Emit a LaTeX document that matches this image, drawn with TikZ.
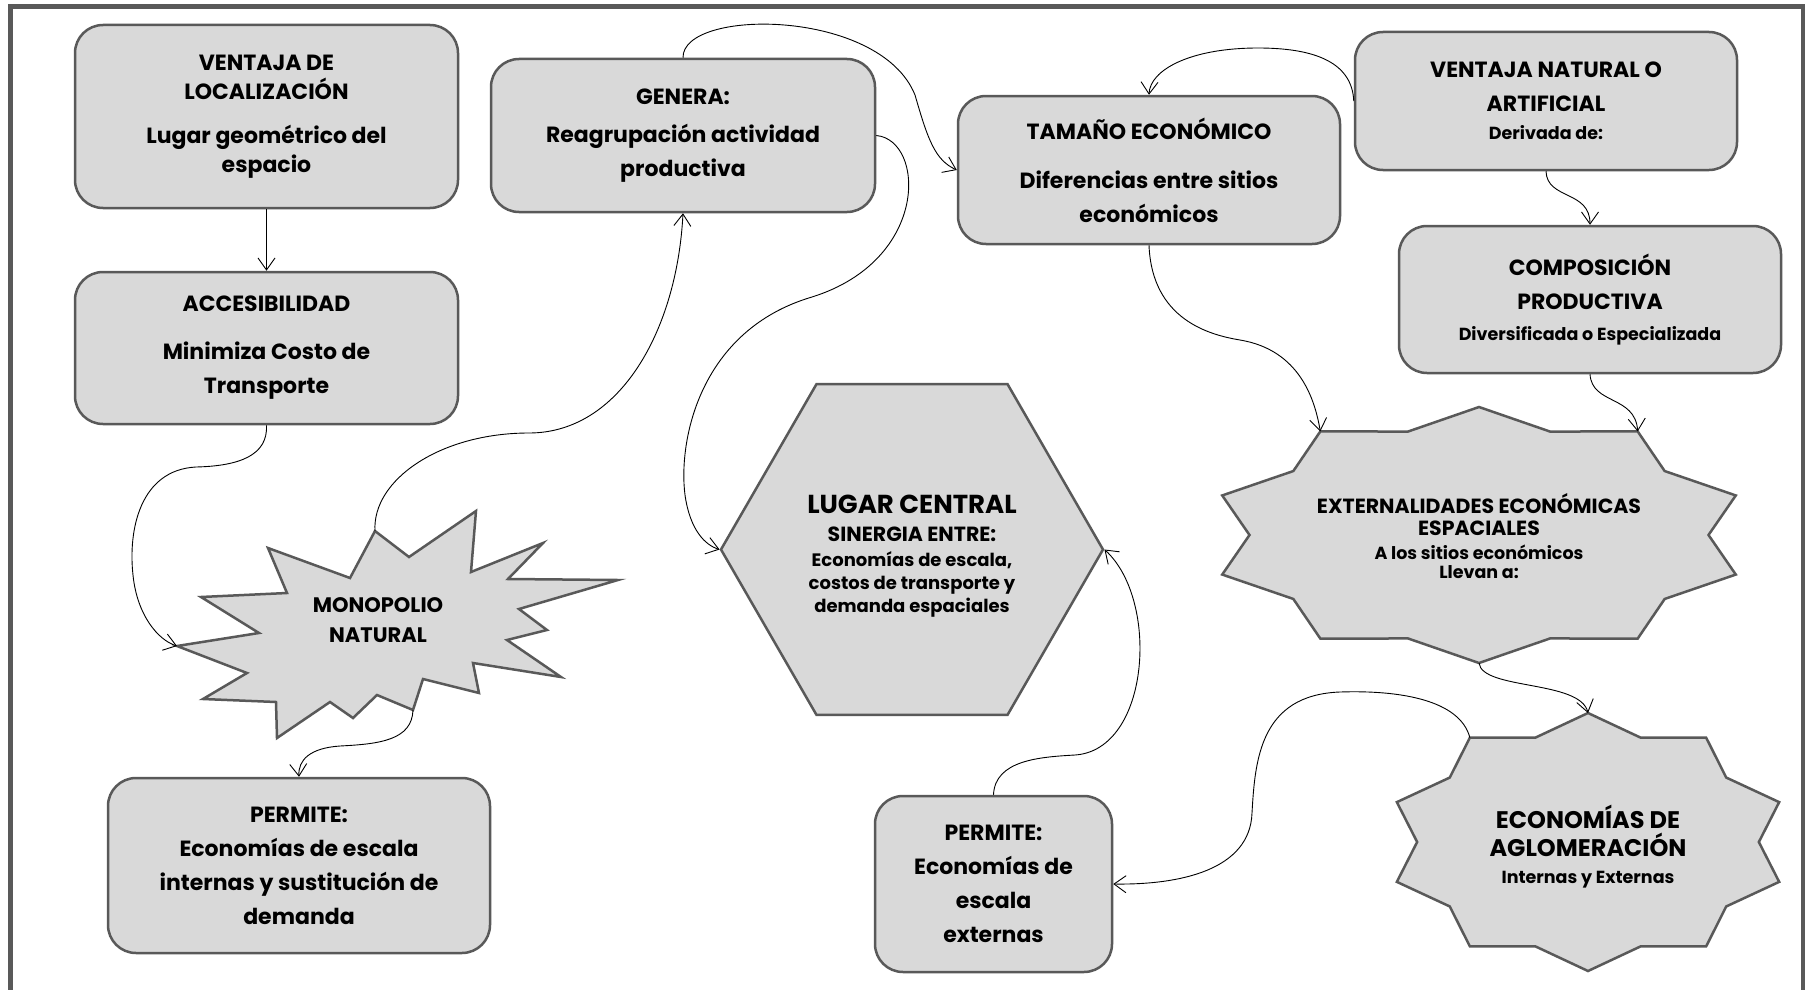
\documentclass[tikz,border=0pt]{standalone}
\usepackage{fontspec}
\setmainfont{Poppins}
\usetikzlibrary{arrows.meta,shapes.geometric}
\definecolor{boxfill}{HTML}{D9D9D9}
\definecolor{boxline}{HTML}{595959}
\newcommand{\txtmain}{\fontsize{22}{34}\selectfont\bfseries}
\newcommand{\txtsmall}{\fontsize{17.5}{24}\selectfont\bfseries}
\newcommand{\txtbig}{\fontsize{26}{30}\selectfont\bfseries}
\newcommand{\txtmid}{\fontsize{20.5}{25}\selectfont\bfseries}
\newcommand{\txtagl}{\fontsize{24}{28}\selectfont\bfseries}
\newcommand{\txtmono}{\fontsize{21}{30}\selectfont\bfseries}
\newcommand{\txthex}{\fontsize{18}{23}\selectfont\bfseries}
\begin{document}
\begin{tikzpicture}[x=1pt,y=-1pt,>={Straight Barb[length=12pt,width=17pt]},
    shapeline/.style={draw=boxline,fill=boxfill,line width=2.5pt},
    box/.style={shapeline,rounded corners=28pt,align=center,inner sep=0pt,font=\txtmain},
    link/.style={->,black,line width=0.9pt}]
    \useasboundingbox (0,0) rectangle (1805,990);
    \draw[line width=5pt,draw=boxline] (10.5,7) rectangle (1803,992);
    % boxes
    \node[box,minimum width=383pt,minimum height=183pt](loc) at (266.5,116.5){VENTAJA DE\\[-5pt]LOCALIZACI\'ON\\[10pt]Lugar geom\'etrico del\\[-5pt]espacio};
    \node[box,minimum width=383pt,minimum height=152pt](acc) at (266.5,348){ACCESIBILIDAD\\[14pt]Minimiza Costo de\\Transporte};
    \node[box,minimum width=384pt,minimum height=153pt](gen) at (683,135.5){GENERA:\\[4pt]Reagrupaci\'on actividad\\productiva};
    \node[box,minimum width=382pt,minimum height=148pt](tam) at (1149,170){TAMA\~NO ECON\'OMICO\\[15pt]Diferencias entre sitios\\econ\'omicos};
    \node[box,minimum width=382pt,minimum height=138pt](nat) at (1546,101){VENTAJA NATURAL O\\ARTIFICIAL\\[-6pt]{\txtsmall Derivada de:}};
    \node[box,minimum width=382pt,minimum height=147pt](comp) at (1590,299.5){COMPOSICI\'ON\\PRODUCTIVA\\[-3pt]{\txtsmall Diversificada o Especializada}};
    \node[box,minimum width=382pt,minimum height=175pt](perm1) at (299,865.5){PERMITE:\\Econom\'ias de escala\\internas y sustituci\'on de\\demanda};
    \node[box,minimum width=237pt,minimum height=176pt](perm2) at (993.5,884){PERMITE:\\Econom\'ias de\\escala\\externas};
    % hexagon
    \node[shapeline,regular polygon,regular polygon sides=6,minimum size=382pt,inner sep=0pt](lugar) at (912,549.5){};
    \node[align=center,font=\txthex](lugar-txt) at (912,556)
        {{\txtbig LUGAR CENTRAL}\\[5pt]{\txtmid SINERGIA ENTRE:}\\[2pt]Econom\'ias de escala,\\costos de transporte y\\demanda espaciales};
    % stars
    \foreach \i in {0,...,19}{
        \pgfmathsetmacro{\rf}{ifthenelse(mod(\i,2)==0,1,0.85)}
        \coordinate (ext-\i) at ({1479+270*\rf*sin(18*\i)},{535-128*\rf*cos(18*\i)});
        \coordinate (agl-\i) at ({1588+201*\rf*sin(18*\i)},{842-129*\rf*cos(18*\i)});
    }
    \draw[shapeline] (ext-0) \foreach \i in {1,...,19}{ -- (ext-\i)} -- cycle;
    \draw[shapeline] (agl-0) \foreach \i in {1,...,19}{ -- (agl-\i)} -- cycle;
    \node[align=center,font=\txtmid](ext) at (1479,536){EXTERNALIDADES ECON\'OMICAS\\[-3pt]ESPACIALES\\[-1pt]{\txtsmall A los sitios econ\'omicos}\\[-6pt]{\txtsmall Llevan a:}};
    \node[align=center,font=\txtagl](agl) at (1588,847){ECONOM\'IAS DE\\AGLOMERACI\'ON\\[-1pt]{\txtsmall Internas y Externas}};
    % monopolio
    \coordinate (mono-t) at (375,531);
    \coordinate (mono-l) at (177,646);
    \coordinate (mono-b) at (413,710);
    \draw[shapeline] (mono-t) -- (409,557) -- (476,511) -- (471,572) -- (543,543) -- (508,579) -- (618,580)
        -- (519,609) -- (547,630) -- (507,640) -- (561,677) -- (473,663) -- (479,693) -- (423,679)
        -- (mono-b) -- (377,695) -- (353,718) -- (330,702) -- (277,738) -- (276,702) -- (203,699)
        -- (247,673) -- (mono-l) -- (259,633) -- (201,597) -- (287,593) -- (268,548) -- (350,578) -- cycle;
    \node[align=center,font=\txtmono](mono) at (378,620){MONOPOLIO\\NATURAL};
    % connectors
    \draw[link] (loc.south) -- (acc.north);
    \draw[link] (acc.south) .. controls (268,455) and (240,466) .. (196,467) .. controls (140,470) and (128,530) .. (133,575) .. controls (137,615) and (158,640) .. (mono-l);
    \draw[link] (mono-t) .. controls (372,480) and (440,433) .. (529,433) .. controls (620,433) and (677,330) .. (gen.south);
    \draw[link] (mono-b) .. controls (412,740) and (380,744) .. (340,746) .. controls (310,748) and (298,760) .. (perm1.north);
    \draw[link] (gen.north) .. controls (682,8) and (880,8) .. (915,95) .. controls (928,140) and (935,160) .. (tam.west);
    \draw[link] (gen.east) .. controls (925,140) and (930,260) .. (812,297) .. controls (700,330) and (678,440) .. (685,495) .. controls (690,530) and (705,545) .. (lugar.west);
    \draw[link] (nat.west) .. controls (1352,60) and (1310,48) .. (1258,48) .. controls (1190,48) and (1150,70) .. (tam.north);
    \draw[link] (nat.south) .. controls (1547,200) and (1590,190) .. (comp.north);
    \draw[link] (tam.south) .. controls (1152,320) and (1210,335) .. (1240,340) .. controls (1300,350) and (1315,400) .. (ext-18);
    \draw[link] (comp.south) .. controls (1592,405) and (1635,395) .. (ext-2);
    \draw[link] (ext-10) .. controls (1482,690) and (1580,680) .. (agl-0);
    \draw[link] (agl-18) .. controls (1460,700) and (1400,690) .. (1340,692) .. controls (1260,695) and (1255,760) .. (1252,813) .. controls (1250,870) and (1180,885) .. (perm2.east);
    \draw[link] (perm2.north) .. controls (995,760) and (1040,757) .. (1075,755) .. controls (1150,750) and (1160,600) .. (lugar.east);
\end{tikzpicture}
\end{document}
